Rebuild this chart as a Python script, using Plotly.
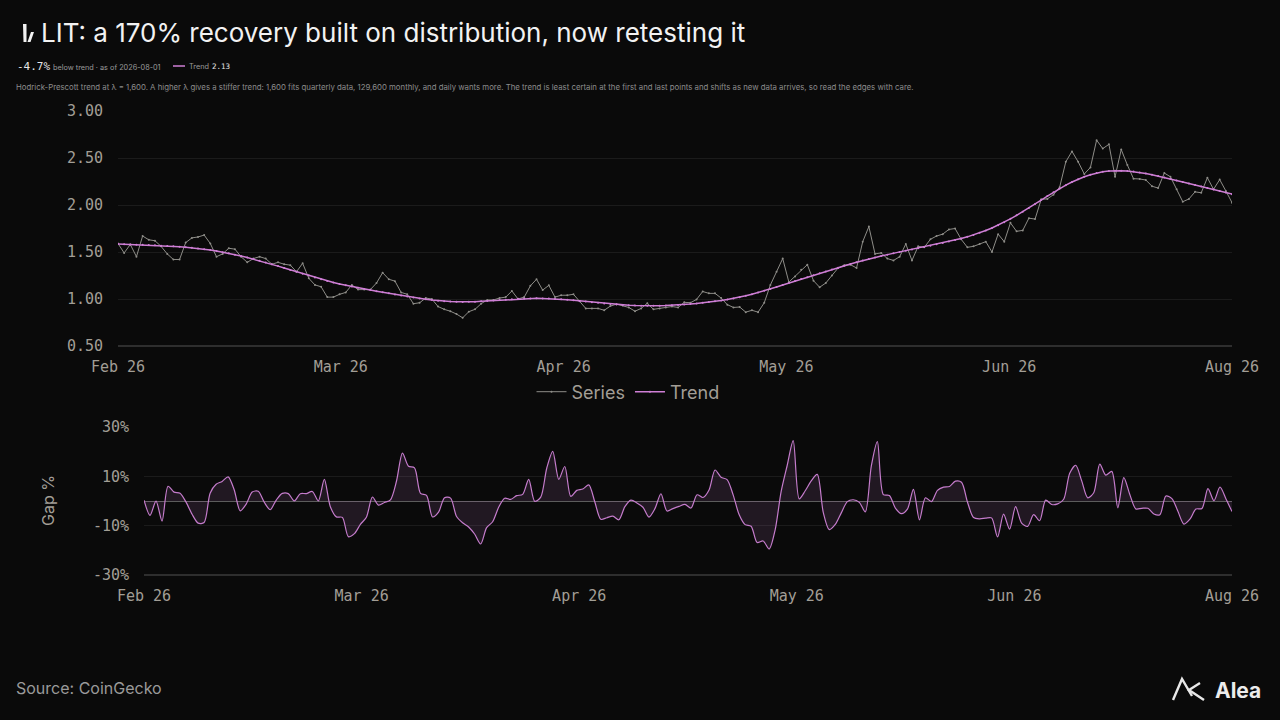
import numpy as np
import pandas as pd
import plotly.graph_objects as go

# ---------------- data ----------------
START = "2026-02-01"
END = "2026-08-01"
dates = pd.date_range(START, END, freq="D")

# LIT daily price (USD)
price = [
    1.59, 1.49, 1.58, 1.45, 1.67, 1.63, 1.62, 1.56, 1.48, 1.42,
    1.42, 1.60, 1.65, 1.66, 1.68, 1.59, 1.45, 1.48, 1.54, 1.53,
    1.45, 1.39, 1.43, 1.45, 1.43, 1.37, 1.39, 1.37, 1.36, 1.29,
    1.38, 1.22, 1.15, 1.13, 1.02, 1.02, 1.05, 1.07, 1.15, 1.10,
    1.10, 1.10, 1.17, 1.28, 1.21, 1.19, 1.07, 1.05, 0.95, 0.96,
    1.01, 1.00, 0.92, 0.89, 0.87, 0.84, 0.80, 0.865, 0.89, 0.95,
    0.99, 0.99, 1.01, 1.02, 1.085, 1.00, 1.02, 1.14, 1.21, 1.095,
    1.145, 1.02, 1.04, 1.04, 1.05, 0.975, 0.90, 0.90, 0.90, 0.88,
    0.925, 0.945, 0.93, 0.91, 0.87, 0.90, 0.955, 0.89, 0.90, 0.91,
    0.92, 0.91, 0.965, 0.96, 0.995, 1.08, 1.06, 1.06, 1.01, 0.94,
    0.91, 0.915, 0.86, 0.88, 0.86, 0.96, 1.15, 1.29, 1.43, 1.18,
    1.24, 1.31, 1.365, 1.195, 1.125, 1.17, 1.25, 1.33, 1.36, 1.365,
    1.33, 1.61, 1.77, 1.48, 1.49, 1.43, 1.41, 1.45, 1.585, 1.41,
    1.56, 1.55, 1.635, 1.67, 1.69, 1.74, 1.75, 1.635, 1.55, 1.56,
    1.585, 1.61, 1.50, 1.69, 1.61, 1.81, 1.72, 1.73, 1.86, 1.85,
    2.06, 2.065, 2.11, 2.19, 2.46, 2.57, 2.46, 2.33, 2.40, 2.69,
    2.60, 2.645, 2.30, 2.59, 2.425, 2.28, 2.277, 2.266, 2.20, 2.18,
    2.34, 2.30, 2.167, 2.035, 2.064, 2.14, 2.13, 2.29, 2.167, 2.27,
    2.15, 2.025,
]

TICK_LABELS = ["Feb 26", "Mar 26", "Apr 26", "May 26", "Jun 26", "Aug 26"]
PRICE_TICKS = [0.5, 1.0, 1.5, 2.0, 2.5, 3.0]
GAP_TICKS = [-30, -10, 10, 30]
GAP_TICK_LABELS = ["-30%", "-10%", "10%", "30%"]
HP_LAMBDA = 1600


def hp_trend(y, lam):
    y = np.asarray(y, dtype=float)
    n = len(y)
    D = np.zeros((n - 2, n))
    for i in range(n - 2):
        D[i, i], D[i, i + 1], D[i, i + 2] = 1.0, -2.0, 1.0
    return np.linalg.solve(np.eye(n) + lam * D.T @ D, y)


trend = hp_trend(price, HP_LAMBDA)
gap = (np.asarray(price) / trend - 1.0) * 100.0

# ---------------- style ----------------
W, H = 1280, 720
BG = "#0a0a0a"
GRID = "#1b1b1b"
AXLINE = "#2e2e2e"
TICK_C = "#a29e96"
SERIES_C = "#8e8d88"
TREND_C = "#cf7fd6"
GAP_C = "#c57ccc"
MONO = "DejaVu Sans Mono"
SANS = "Inter"


def px(x):
    return x / W


def py(y):
    return 1 - y / H


start_ts = pd.Timestamp(START)
end_ts = pd.Timestamp(END)
tickvals = [start_ts + (end_ts - start_ts) * k / (len(TICK_LABELS) - 1)
            for k in range(len(TICK_LABELS))]

fig = go.Figure()
fig.add_trace(go.Scatter(
    x=dates, y=price, name="Series", mode="lines+markers",
    line=dict(color=SERIES_C, width=1), marker=dict(size=2, color=SERIES_C),
    xaxis="x", yaxis="y"))
fig.add_trace(go.Scatter(
    x=dates, y=trend, name="Trend", mode="lines+markers",
    line=dict(color=TREND_C, width=1.5), marker=dict(size=2, color=TREND_C),
    xaxis="x", yaxis="y"))
fig.add_trace(go.Scatter(
    x=dates, y=gap, name="Gap", mode="lines", fill="tozeroy",
    fillcolor="rgba(197,124,204,0.13)",
    line=dict(color=GAP_C, width=1.2, shape="spline", smoothing=0.8),
    xaxis="x2", yaxis="y2", showlegend=False))

tickfont = dict(family=MONO, size=15, color=TICK_C)

fig.update_layout(
    width=W, height=H,
    margin=dict(l=0, r=0, t=0, b=0),
    paper_bgcolor=BG, plot_bgcolor=BG,
    showlegend=True,
    legend=dict(orientation="h", x=px(628), xanchor="center", y=py(392),
                yanchor="middle", font=dict(family=SANS, size=18, color=TICK_C),
                bgcolor="rgba(0,0,0,0)", itemwidth=30, tracegroupgap=0),
    xaxis=dict(domain=[px(118), px(1232)], anchor="y", type="date",
               range=[start_ts, end_ts], tickvals=tickvals, ticktext=TICK_LABELS,
               showgrid=False, zeroline=False, showline=False, ticks="",
               tickfont=tickfont, ticklabelstandoff=10, automargin=False),
    yaxis=dict(domain=[py(346), py(111)], anchor="x", range=[0.5, 3.0],
               tickvals=PRICE_TICKS, tickformat=".2f", showgrid=True,
               gridcolor=GRID, gridwidth=1, zeroline=False, showline=False,
               ticks="", tickfont=tickfont, ticklabelstandoff=14, automargin=False),
    xaxis2=dict(domain=[px(144), px(1232)], anchor="y2", type="date",
                range=[start_ts, end_ts], tickvals=tickvals, ticktext=TICK_LABELS,
                showgrid=False, zeroline=False, showline=False, ticks="",
                tickfont=tickfont, ticklabelstandoff=10, automargin=False),
    yaxis2=dict(domain=[py(575), py(427)], anchor="x2", range=[-30, 30],
                tickvals=GAP_TICKS, ticktext=GAP_TICK_LABELS, showgrid=True,
                gridcolor=GRID, gridwidth=1, zeroline=True,
                zerolinecolor="#5c5c5c", zerolinewidth=1, showline=False,
                ticks="", tickfont=tickfont, ticklabelstandoff=14, automargin=False),
)

# axis base lines (bottom of each panel)
fig.add_shape(type="line", xref="paper", yref="paper", x0=px(118), x1=px(1232),
              y0=py(346), y1=py(346), line=dict(color=AXLINE, width=2))
fig.add_shape(type="line", xref="paper", yref="paper", x0=px(144), x1=px(1232),
              y0=py(575), y1=py(575), line=dict(color=AXLINE, width=2))


def pix_path(points, close=True):
    s = "M " + " L ".join(f"{px(x):.5f},{py(y):.5f}" for x, y in points)
    return s + (" Z" if close else "")


# header logo
fig.add_shape(type="path", xref="paper", yref="paper",
              path=pix_path([(23, 24), (26.5, 24), (26.5, 42), (23.5, 42)]),
              fillcolor="#f2f2f2", line=dict(width=0))
fig.add_shape(type="path", xref="paper", yref="paper",
              path=pix_path([(31, 32), (34, 32), (30.5, 42), (27.5, 42)]),
              fillcolor="#f2f2f2", line=dict(width=0))

# footer logo icon
fig.add_shape(type="path", xref="paper", yref="paper",
              path=pix_path([(1173, 700), (1182, 679), (1192, 696)], close=False),
              line=dict(color="#e8e8e8", width=2.4))
fig.add_shape(type="path", xref="paper", yref="paper",
              path=pix_path([(1200, 683), (1189, 690), (1204, 700)], close=False),
              line=dict(color="#e8e8e8", width=2.4))


def ann(text, x, y, size, color, family=SANS, xanchor="left", **kw):
    fig.add_annotation(text=text, x=px(x), y=py(y), xref="paper", yref="paper",
                       xanchor=xanchor, yanchor="middle", showarrow=False,
                       font=dict(family=family, size=size, color=color), **kw)


ann("LIT: a 170% recovery built on distribution, now retesting it",
    39, 33, 26, "#f2f2f2")
ann("-4.7%", 15, 66, 11, "#e6e6e6", family=MONO)
ann("below trend · as of 2026-08-01", 51, 67, 7.3, "#9a9a9a")
fig.add_shape(type="line", xref="paper", yref="paper", x0=px(173), x1=px(185),
              y0=py(66), y1=py(66), line=dict(color=TREND_C, width=1.5))
ann("Trend", 187, 66, 7.3, "#9a9a9a")
ann("2.13", 210, 66, 7.5, "#e6e6e6", family=MONO)
ann("Hodrick-Prescott trend at λ = 1,600. A higher λ gives a stiffer trend: 1,600 fits "
    "quarterly data, 129,600 monthly, and daily wants more. The trend is least certain "
    "at the first and last points and shifts as new data arrives, so read the edges with care.",
    14, 87, 7.8, "#8c8c8c")
ann("Gap %", 48, 501, 16, TICK_C, xanchor="center", textangle=-90)
ann("Source: CoinGecko", 14, 688, 16, "#9a9a9a")
ann("<b>Alea</b>", 1213, 690, 21, "#ececec")

fig.write_html("out.html", include_plotlyjs=True, full_html=True,
               config={"displayModeBar": False},
               post_script="document.body.style.margin='0';"
                           "document.body.style.background='#0a0a0a';")
